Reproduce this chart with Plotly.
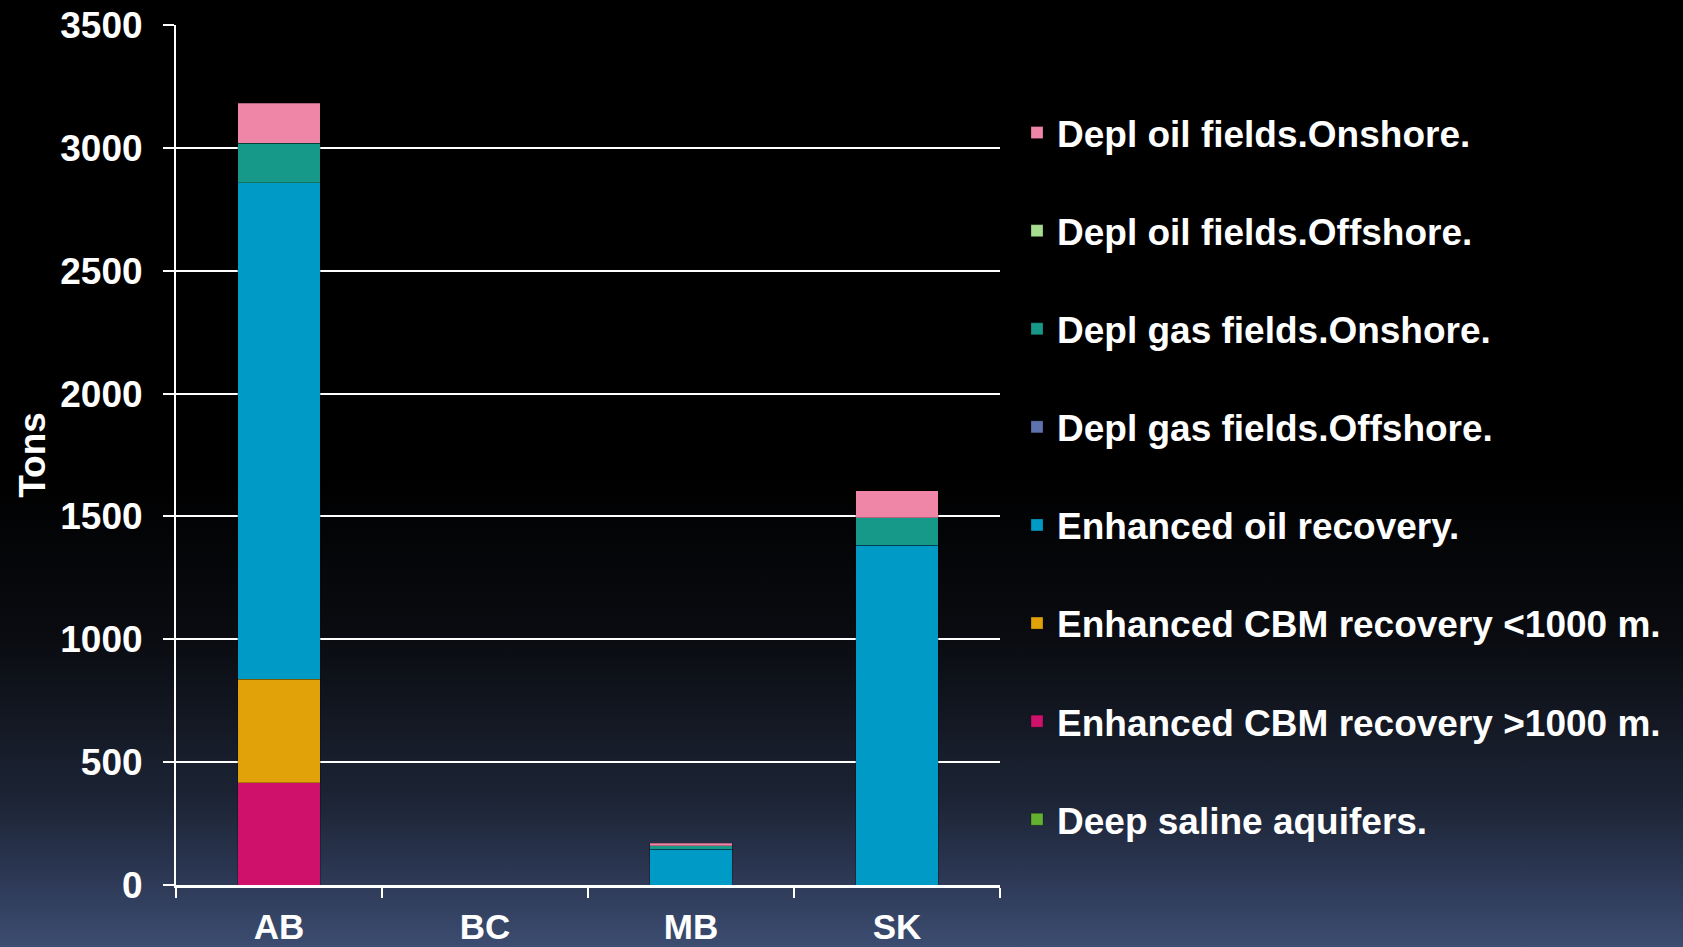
import base64
import plotly.graph_objects as go

# Provinces
provinces = ["AB", "BC", "MB", "SK"]

# Storage capacity by reservoir type (tons), stacked bottom to top
deep_saline = [0, 0, 0, 0]
cbm_deep = [416, 0, 0, 0]
cbm_shallow = [422, 0, 0, 0]
eor = [2019, 0, 145, 1383]
gas_offshore = [0, 0, 0, 0]
gas_onshore = [162, 0, 14, 112]
oil_offshore = [0, 0, 0, 0]
oil_onshore = [163, 0, 11, 110]

series = [
    ("Deep saline aquifers.", deep_saline, "#63B22F"),
    ("Enhanced CBM recovery >1000 m.", cbm_deep, "#D0116B"),
    ("Enhanced CBM recovery <1000 m.", cbm_shallow, "#E1A108"),
    ("Enhanced oil recovery.", eor, "#009AC6"),
    ("Depl gas fields.Offshore.", gas_offshore, "#5E73AE"),
    ("Depl gas fields.Onshore.", gas_onshore, "#17998A"),
    ("Depl oil fields.Offshore.", oil_offshore, "#A6DD8E"),
    ("Depl oil fields.Onshore.", oil_onshore, "#EF86A7"),
]

y_ticks = [0, 500, 1000, 1500, 2000, 2500, 3000, 3500]

W, H = 1683, 947
L, R, T, B = 176, 683, 25, 62

FONT = "Liberation Sans, Arial, Helvetica, sans-serif"

fig = go.Figure()
n = len(series)
for i, (name, vals, color) in enumerate(series):
    fig.add_trace(go.Bar(
        x=provinces, y=vals, name=name, legendgroup=f"g{i}",
        legendrank=n - i,
        marker=dict(color=color, line=dict(color="rgba(0,0,0,0.25)", width=1)),
        width=0.4, hoverinfo="skip",
    ))

# vertical background gradient: black top fading to slate blue at the bottom
svg = (
    '<svg xmlns="http://www.w3.org/2000/svg" width="100" height="100" preserveAspectRatio="none">'
    '<defs><linearGradient id="g" x1="0" y1="0" x2="0" y2="1">'
    '<stop offset="0" stop-color="#000000"/>'
    '<stop offset="0.5" stop-color="#000000"/>'
    '<stop offset="0.676" stop-color="#0a0c11"/>'
    '<stop offset="0.845" stop-color="#1c2435"/>'
    '<stop offset="0.92" stop-color="#2b3652"/>'
    '<stop offset="1" stop-color="#3c4d71"/>'
    '</linearGradient></defs>'
    '<rect x="0" y="0" width="100" height="100" fill="url(#g)"/></svg>'
)
src = "data:image/svg+xml;base64," + base64.b64encode(svg.encode()).decode()
pw, ph = W - L - R, H - T - B
fig.add_layout_image(dict(
    source=src, xref="paper", yref="paper",
    x=-L / pw, y=1 + T / ph, sizex=W / pw, sizey=H / ph,
    xanchor="left", yanchor="top", sizing="stretch", layer="below",
))

fig.update_layout(
    width=W, height=H,
    margin=dict(l=L, r=R, t=T, b=B, autoexpand=False),
    barmode="stack",
    paper_bgcolor="#000000",
    plot_bgcolor="rgba(0,0,0,0)",
    font=dict(family=FONT, color="white", size=36, weight="bold"),
    showlegend=True,
    legend=dict(
        xref="container", yref="container",
        x=1017 / W, y=1 - 102 / H, xanchor="left", yanchor="top",
        bgcolor="rgba(0,0,0,0)",
        font=dict(family=FONT, size=37, color="white", weight="bold"),
        traceorder="grouped", tracegroupgap=47, maxheight=900,
        itemclick=False, itemdoubleclick=False,
    ),
    xaxis=dict(
        showline=True, linecolor="white", linewidth=3,
        ticks="outside", tickson="boundaries", ticklen=10, tickwidth=2, tickcolor="white",
        tickfont=dict(size=35, color="white", family=FONT, weight="bold"),
        ticklabelstandoff=9, showgrid=False, fixedrange=True,
    ),
    yaxis=dict(
        range=[0, 3500], tickvals=y_ticks, ticktext=[str(v) for v in y_ticks],
        showline=True, linecolor="white", linewidth=2,
        ticks="outside", ticklen=11, tickwidth=2, tickcolor="white",
        showgrid=True, gridcolor="white", gridwidth=2, zeroline=False,
        tickfont=dict(size=37, color="white", family=FONT, weight="bold"),
        ticklabelstandoff=13,
        title=dict(text="Tons", standoff=3,
                   font=dict(size=37, color="white", family=FONT, weight="bold")),
        fixedrange=True,
    ),
)

fig.write_html("out.html")
